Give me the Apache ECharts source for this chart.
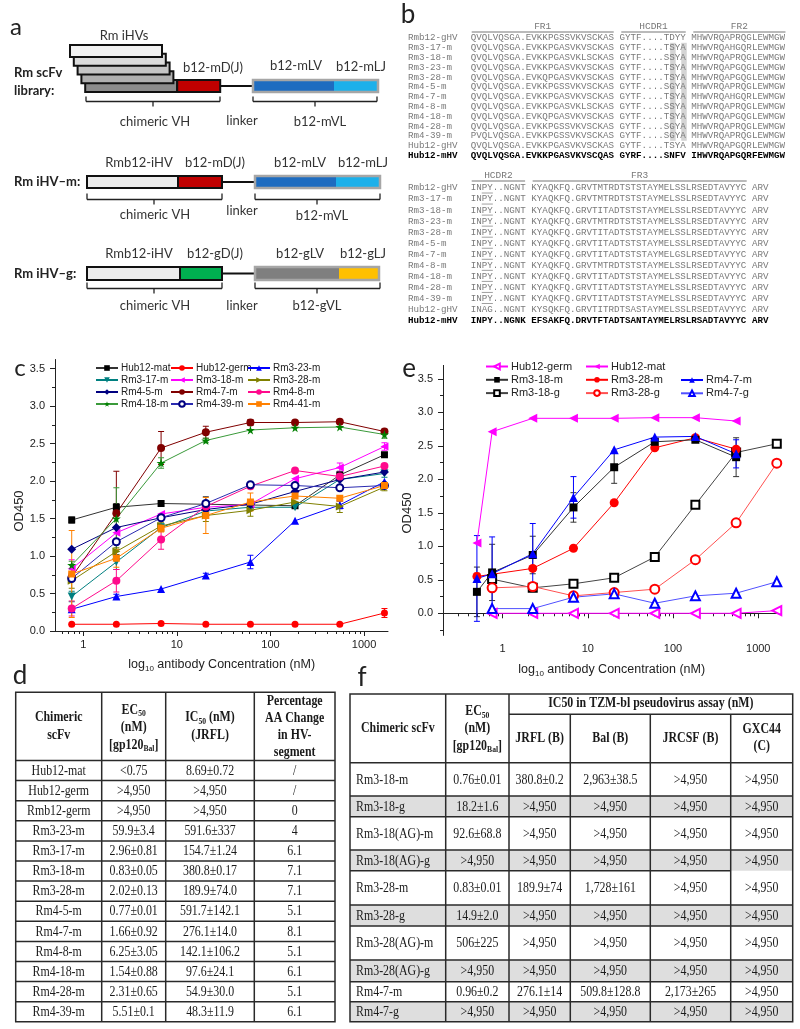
<!DOCTYPE html>
<html><head><meta charset="utf-8">
<script src="https://cdn.jsdelivr.net/npm/echarts@6/dist/echarts.min.js"></script>
<style>html,body{margin:0;padding:0;background:#fff}
#wrap{position:relative;width:800px;height:1029px}
#main,#chartE{position:absolute;left:0;top:0;width:800px;height:1029px}</style>
</head><body><div id="wrap"><div id="main"></div><div id="chartE"></div></div>
<script>
// ================= DATA =================
// Panel c: OD450 vs antibody concentration (nM)
const concC = [0.754, 2.26, 6.79, 20.4, 61.1, 183, 550, 1650];
const hub12MatC  = [1.48, 1.65, 1.70, 1.69, 1.68, 1.67, 2.08, 2.35];
const hub12GermC = [0.09, 0.09, 0.10, 0.09, 0.09, 0.09, 0.09, 0.24];
const rm3_23C = [0.29, 0.46, 0.56, 0.74, 0.92, 1.47, 1.68, 1.99];
const rm3_17C = [0.46, 0.92, 1.38, 1.60, 1.65, 1.65, 2.02, 2.10];
const rm3_18C = [0.83, 1.31, 1.56, 1.65, 1.69, 2.03, 2.18, 2.46];
const rm3_28C = [0.67, 1.06, 1.40, 1.54, 1.61, 1.72, 1.66, 1.92];
const rm4_5C  = [1.09, 1.38, 1.51, 1.62, 1.69, 1.86, 2.02, 2.12];
const rm4_7C  = [0.72, 1.57, 2.44, 2.65, 2.78, 2.78, 2.79, 2.66];
const rm4_8C  = [0.30, 0.67, 1.22, 1.66, 1.93, 2.14, 2.06, 2.20];
const rm4_18C = [0.88, 1.50, 2.24, 2.54, 2.68, 2.71, 2.72, 2.62];
const rm4_39C = [0.70, 1.19, 1.51, 1.70, 1.95, 1.94, 1.91, 1.94];
const rm4_41C = [0.76, 0.97, 1.37, 1.54, 1.72, 1.80, 1.77, 1.94];
// error bars (±) panel c
const errHub12MatC  = [0.04, 0.05, 0, 0.10, 0, 0, 0.05, 0];
const errHub12GermC = [0, 0, 0, 0, 0, 0, 0, 0.06];
const errRm3_23C = [0, 0.03, 0, 0.03, 0.09, 0, 0.05, 0];
const errRm3_17C = [0.07, 0.10, 0.05, 0, 0, 0, 0, 0.05];
const errRm3_18C = [0.12, 0, 0, 0, 0, 0, 0.06, 0.05];
const errRm3_28C = [0.10, 0.05, 0.05, 0.08, 0.08, 0, 0.08, 0.05];
const errRm4_7C  = [0.05, 0.56, 0.22, 0.08, 0.04, 0, 0, 0.03];
const errRm4_8C  = [0.10, 0.15, 0.13, 0, 0, 0, 0, 0];
const errRm4_18C = [0.05, 0.41, 0.07, 0.03, 0, 0, 0, 0.05];
const errRm4_41C = [0.58, 0.12, 0.05, 0.24, 0.12, 0, 0, 0];

// Panel e
const concE = [0.5, 0.754, 2.26, 6.79, 20.4, 61.1, 183, 550, 1650];
const hub12GermE = [null, 0.00, 0.00, 0.00, 0.00, 0.00, 0.00, 0.00, 0.04];
const hub12MatE  = [1.05, 2.71, 2.91, 2.91, 2.91, 2.92, 2.92, 2.87, null];
const rm3_18mE = [0.32, 0.61, 0.87, 1.58, 2.18, 2.56, 2.59, 2.33, null];
const rm3_28mE = [0.55, null, 0.67, 0.97, 1.65, 2.47, 2.62, 2.45, null];
const rm4_7mE  = [0.52, 0.59, 0.89, 1.73, 2.44, 2.63, 2.64, 2.38, null];
const rm3_18gE = [null, 0.51, 0.38, 0.44, 0.53, 0.84, 1.62, 2.40, 2.53];
const rm3_28gE = [null, 0.38, 0.40, 0.26, 0.31, 0.36, 0.80, 1.35, 2.24];
const rm4_7gE  = [null, 0.07, 0.07, 0.24, 0.29, 0.15, 0.26, 0.30, 0.47];
const errRm3_18mE = [0.37, 0.42, 0.28, 0.22, 0.24, 0.03, 0.02, 0.29, 0];
const errRm4_7mE  = [0.64, 0.55, 0.45, 0.31, 0, 0, 0, 0.21, 0];
const errRm3_28mE = [0.05, 0, 0.04, 0, 0, 0, 0, 0.04, 0];

// axis tick labels
const yTicks = [0, 0.5, 1.0, 1.5, 2.0, 2.5, 3.0, 3.5];
const xTicks = [1, 10, 100, 1000];

// Panel b sequences
const seqNames = ['Rmb12-gHV','Rm3-17-m','Rm3-18-m','Rm3-23-m','Rm3-28-m','Rm4-5-m','Rm4-7-m','Rm4-8-m','Rm4-18-m','Rm4-28-m','Rm4-39-m','Hub12-gHV','Hub12-mHV'];
const seqBlock1 = [
 'QVQLVQSGA.EVKKPGSSVKVSCKAS GYTF....TDYY MHWVRQAPRQGLEWMGW',
 'QVQLVQSGA.EVKKPGASVKVSCKAS GYTF....TSYA MHWVRQAHGQRLEWMGW',
 'QVQLVQSGA.EVKKPGASVKLSCKAS GYTF....SSYA MHWVRQAPRQGLEWMGW',
 'QVQLVQSGA.EVKKPGASVKVSCKAS GYTF....TSYA MHWVRQAPGQGLEWMGW',
 'QVQLVQSGA.EVKQPGASVKVSCKAS GYTF....TSYA MHWVRQAPGQGLEWMGW',
 'QVQLVQSGA.EVKKPGSSVKVSCKAS GYTF....SGYA MHWVRQAPRQGLEWMGW',
 'QVQLVQSGA.EVKKPGASVKVSCKAS GYTF....TSYA MHWVRQAHGQRLEWMGW',
 'QVQLVQSGA.EVKKPGASVKLSCKAS GYTF....SSYA MHWVRQAPRQGLEWMGW',
 'QVQLVQSGA.EVKQPGASVKVSCKAS GYTF....TSYA MHWVRQAPGQGLEWMGW',
 'QVQLVQSGA.EVKKPGSSVKVSCKAS GYTF....SGYA MHWVRQAPRQGLEWMGW',
 'PVQLVQSGA.EVKKPGSSVKVSCKAS GYTF....SGYA MHWVRQAPRQGLEWMGW',
 'QVQLVQSGA.EVKKPGASVKVSCKAS GYTF....TSYA MHWVRQAPGQRLEWMGW',
 'QVQLVQSGA.EVKKPGASVKVSCQAS GYRF....SNFV IHWVRQAPGQRFEWMGW'
];
const seqBlock2 = [
 'INPY..NGNT KYAQKFQ.GRVTMTRDTSTSTAYMELSSLRSEDTAVYYC ARV',
 'INPY..NGNT KYAQKFQ.GRVTMTRDTSTSTAYMELSSLRSEDTAVYYC ARV',
 'INPY..NGNT KYAQKFQ.GRVTITADTSTSTAYMELSSLRSEDTAVYYC ARV',
 'INPY..NGNT KYAQKFQ.GRVTMTRDTSTSTAYMELSSLRSEDTAVYYC ARV',
 'INPY..NGNT KYAQKFQ.GRVTITADTSTSTAYMELSSLRSEDTAVYYC ARV',
 'INPY..NGNT KYAQKFQ.GRVTITADTSTSTAYMELSSLRSEDTAVYYC ARV',
 'INPY..NGNT KYAQKFQ.GRVTITADTSTSTAYMELGSLRSEDTAVYYC ARV',
 'INPY..NGNT KYAQKFQ.GRVTMTRDTSTSTAYMELSSLRSEDTAVYYC ARV',
 'INPY..NGNT KYAQKFQ.GRVTITADTSTSTAYMELSSLRSEDTAVYYC ARV',
 'INPY..NGNT KYAQKFQ.GRVTITADTSTSTAYMELSSLRSEDTAVYYC ARV',
 'INPY..NGNT KYAQKFQ.GRVTITADTSTSTAYMELSSLRSEDTAVYYC ARV',
 'INAG..NGNT KYSQKFQ.GRVTITRDTSASTAYMELSSLRSEDTAVYYC ARV',
 'INPY..NGNK EFSAKFQ.DRVTFTADTSANTAYMELRSLRSADTAVYYC ARV'
];

// Panel d table
const tableDRows = [
 ['Hub12-mat','<0.75','8.69±0.72','/'],
 ['Hub12-germ','>4,950','>4,950','/'],
 ['Rmb12-germ','>4,950','>4,950','0'],
 ['Rm3-23-m','59.9±3.4','591.6±337','4'],
 ['Rm3-17-m','2.96±0.81','154.7±1.24','6.1'],
 ['Rm3-18-m','0.83±0.05','380.8±0.17','7.1'],
 ['Rm3-28-m','2.02±0.13','189.9±74.0','7.1'],
 ['Rm4-5-m','0.77±0.01','591.7±142.1','5.1'],
 ['Rm4-7-m','1.66±0.92','276.1±14.0','8.1'],
 ['Rm4-8-m','6.25±3.05','142.1±106.2','5.1'],
 ['Rm4-18-m','1.54±0.88','97.6±24.1','6.1'],
 ['Rm4-28-m','2.31±0.65','54.9±30.0','5.1'],
 ['Rm4-39-m','5.51±0.1','48.3±11.9','6.1']
];
// Panel f table
const tableFRows = [
 ['Rm3-18-m','0.76±0.01','380.8±0.2','2,963±38.5','>4,950','>4,950'],
 ['Rm3-18-g','18.2±1.6','>4,950','>4,950','>4,950','>4,950'],
 ['Rm3-18(AG)-m','92.6±68.8','>4,950','>4,950','>4,950','>4,950'],
 ['Rm3-18(AG)-g','>4,950','>4,950','>4,950','>4,950','>4,950'],
 ['Rm3-28-m','0.83±0.01','189.9±74','1,728±161','>4,950','>4,950'],
 ['Rm3-28-g','14.9±2.0','>4,950','>4,950','>4,950','>4,950'],
 ['Rm3-28(AG)-m','506±225','>4,950','>4,950','>4,950','>4,950'],
 ['Rm3-28(AG)-g','>4,950','>4,950','>4,950','>4,950','>4,950'],
 ['Rm4-7-m','0.96±0.2','276.1±14','509.8±128.8','2,173±265','>4,950'],
 ['Rm4-7-g','>4,950','>4,950','>4,950','>4,950','>4,950']
];

// ================= STYLES / LAYOUT =================
const STAR = 'path://M50,0 L61,35 L98,35 L68,57 L79,91 L50,70 L21,91 L32,57 L2,35 L39,35 Z';
const SANS = "'Liberation Sans', Arial, sans-serif";
const SERIF = "'Liberation Serif', 'Times New Roman', serif";
const MONO = "'Liberation Mono', 'DejaVu Sans Mono', monospace";
const CAL = "Lato, 'Open Sans', sans-serif";

const seriesDefC = [
 {name:'Hub12-mat', data:hub12MatC, err:errHub12MatC, color:'#000000', line:'#333333', symbol:'rect', size:7},
 {name:'Hub12-germ', data:hub12GermC, err:errHub12GermC, color:'#ff0000', symbol:'circle', size:7},
 {name:'Rm3-23-m', data:rm3_23C, err:errRm3_23C, color:'#0000ff', symbol:'triangle', size:8},
 {name:'Rm3-17-m', data:rm3_17C, err:errRm3_17C, color:'#008080', symbol:'triangle', rot:180, size:8},
 {name:'Rm3-18-m', data:rm3_18C, err:errRm3_18C, color:'#ff00ff', symbol:'triangle', rot:90, size:8},
 {name:'Rm3-28-m', data:rm3_28C, err:errRm3_28C, color:'#808000', symbol:'triangle', rot:-90, size:8},
 {name:'Rm4-5-m', data:rm4_5C, err:null, color:'#000080', symbol:'diamond', size:9},
 {name:'Rm4-7-m', data:rm4_7C, err:errRm4_7C, color:'#800000', symbol:'circle', size:8},
 {name:'Rm4-8-m', data:rm4_8C, err:errRm4_8C, color:'#ff0a8c', symbol:'circle', size:8},
 {name:'Rm4-18-m', data:rm4_18C, err:errRm4_18C, color:'#008000', line:'#3a9a3a', symbol:STAR, size:9},
 {name:'Rm4-39-m', data:rm4_39C, err:null, color:'#000080', line:'#2a2ab0', symbol:'emptyCircle', size:7, bw:2},
 {name:'Rm4-41-m', data:rm4_41C, err:errRm4_41C, color:'#ff8000', symbol:'rect', size:7}
];
const seriesDefE = [
 {name:'Hub12-germ', data:hub12GermE, color:'#ff00ff', symbol:'emptyTriangle', rot:90, size:9, bw:1},
 {name:'Hub12-mat', data:hub12MatE, color:'#ff00ff', symbol:'triangle', rot:90, size:9},
 {name:'Rm3-18-g', data:rm3_18gE, color:'#000000', line:'#444444', symbol:'emptyRect', size:8, bw:1},
 {name:'Rm3-28-g', data:rm3_28gE, color:'#ff0000', line:'#ff5050', symbol:'emptyCircle', size:9, bw:1},
 {name:'Rm4-7-g', data:rm4_7gE, color:'#0000ff', line:'#5050ff', symbol:'emptyTriangle', size:9, bw:1},
 {name:'Rm3-28-m', data:rm3_28mE, err:errRm3_28mE, color:'#ff0000', symbol:'circle', size:9},
 {name:'Rm3-18-m', data:rm3_18mE, err:errRm3_18mE, color:'#000000', line:'#333333', symbol:'rect', size:8},
 {name:'Rm4-7-m', data:rm4_7mE, err:errRm4_7mE, color:'#0000ff', symbol:'triangle', size:9}
];

function pairs(xs, ys){ return xs.map((x,i)=>[x, ys[i]==null ? '-' : ys[i]]); }
function errData(xs, ys, es){
  const out=[]; xs.forEach((x,i)=>{ if(es && es[i] && ys[i]!=null) out.push([x, ys[i], es[i]]); }); return out;
}
function errRender(params, api){
  const x=api.value(0), y=api.value(1), e=api.value(2);
  const p1=api.coord([x,y+e]), p2=api.coord([x,y-e]);
  const c=api.visual('color');
  const st={stroke:c, lineWidth:1};
  return {type:'group', children:[
    {type:'line', shape:{x1:p1[0],y1:p1[1],x2:p2[0],y2:p2[1]}, style:st},
    {type:'line', shape:{x1:p1[0]-3,y1:p1[1],x2:p1[0]+3,y2:p1[1]}, style:st},
    {type:'line', shape:{x1:p2[0]-3,y1:p2[1],x2:p2[0]+3,y2:p2[1]}, style:st}
  ]};
}
function buildSeries(defs, xs){
  const out=[];
  defs.forEach(d=>{
    const s={type:'line', name:d.name, data:pairs(xs,d.data),
      connectNulls:true, symbol:d.symbol, symbolSize:d.size, symbolRotate:d.rot||0,
      lineStyle:{color:d.line||d.color, width:1}, itemStyle:{color:d.color}, z:3};
    if(d.bw){ s.itemStyle.borderWidth=d.bw; s.itemStyle.borderColor=d.color; }
    out.push(s);
    if(d.err){
      out.push({type:'custom', name:'err '+d.name, data:errData(xs,d.data,d.err), renderItem:errRender,
        itemStyle:{color:d.line||d.color}, encode:{x:0,y:1}, z:2, silent:true});
    }
  });
  return out;
}

function logMinor(lo, hi){ const o=[]; for(let d=0.1; d<=1000; d*=10){ for(let k=2;k<=9;k++){ const v=+(k*d).toPrecision(3); if(v>lo && v<hi) o.push(v);} } return o; }
function linMinor(lo, hi){ const o=[]; for(let v=-0.25; v<hi; v+=0.5){ if(v>lo) o.push(+v.toFixed(2)); } return o; }

const axisLine={lineStyle:{color:'#222', width:1}};
const axLabel={color:'#222', fontSize:11, fontFamily:SANS};
function xMain(min,max){ return {type:'log', position:'bottom', min, max, axisLine, splitLine:{show:false},
  axisTick:{customValues:xTicks, length:5, lineStyle:{color:'#222'}},
  axisLabel:Object.assign({customValues:xTicks, margin:8, formatter:v=>String(Math.round(v))}, axLabel)}; }
function xMinor(min,max){ return {type:'log', position:'bottom', min, max, axisLine:{show:false}, splitLine:{show:false},
  axisTick:{customValues:logMinor(min,max), length:3, lineStyle:{color:'#222'}}, axisLabel:{show:false}}; }
function yMain(min,max){ return {type:'value', position:'left', min, max, axisLine:Object.assign({show:true},axisLine), splitLine:{show:false},
  axisTick:{show:true, customValues:yTicks, length:5, lineStyle:{color:'#222'}},
  axisLabel:Object.assign({customValues:yTicks, margin:10, formatter:v=>v.toFixed(1)}, axLabel)}; }
function yMinor(min,max){ return {type:'value', position:'left', offset:0, min, max, axisLine:{show:false}, splitLine:{show:false},
  axisTick:{show:true, customValues:linMinor(min,max), length:3, lineStyle:{color:'#222'}}, axisLabel:{show:false}}; }

function legendCol(left, top, data, fs){
  return {left, top, orient:'vertical', data, itemWidth:22, itemHeight:7, itemGap: fs===10?2:2.3, padding:0,
    selectedMode:false, textStyle:{fontSize:fs, fontFamily:SANS, color:'#222', padding:[0,0,0,-2]}};
}

// ================= GRAPHIC ELEMENTS =================
const G=[];
function T(x,y,text,o){ o=o||{}; G.push({type:'text', x, y, rotation:o.rot||0, scaleX:o.sx||1, silent:true, z:10,
  style:{text, x:0, y:0, align:o.align||'center', verticalAlign:'middle', fontSize:o.fs||12, fontFamily:o.ff||SANS,
  fontWeight:o.fw||'normal', fill:o.fill||'#222', rich:o.rich}}); }
function L(x1,y1,x2,y2,c,w){ G.push({type:'line', silent:true, shape:{x1,y1,x2,y2}, style:{stroke:c||'#222', lineWidth:w||1}}); }
function R(x,y,w,h,fill,stroke,lw){ G.push({type:'rect', silent:true, shape:{x,y,width:w,height:h}, style:{fill:fill||'none', stroke:stroke||null, lineWidth:lw||0}}); }

// panel letters
T(16,27,'a',{fs:24,ff:CAL}); T(408,15,'b',{fs:26,ff:CAL});
T(20,368,'c',{fs:24,ff:CAL}); T(409,369,'e',{fs:26,ff:CAL});
T(20,676,'d',{fs:26,ff:CAL}); T(362,678,'f',{fs:26,ff:CAL});

// ---- panel a ----
const gr=['#f2f2f2','#dcdcdc','#c6c6c6','#b0b0b0','#8c8c8c'];
for(let i=4;i>=0;i--){ R(70+i*3.8, 45+i*8.75, 92, 12, gr[i], '#111', 2); }
R(177.2,80,43,12,'#c00000','#111',2);
L(220,86,253,86,'#111',2);
function vl(x,y,wd,wl,c1,c2){ R(x,y,wd,12,c1,null,0); R(x+wd,y,wl,12,c2,null,0); R(x,y,wd+wl,12,'none','#a6a6a6',2.5); }
vl(253,80,81,44,'#1e6cc0','#1cb0ea');
function bracket(x1,x2,y,cx,h){ L(x1,y,x2,y,'#222',1.3); L(x1,y-h,x1,y,'#222',1.3); L(x2,y-h,x2,y,'#222',1.3); L(cx,y,cx,y+5,'#222',1.3); }
bracket(86,220,101.5,153,5); bracket(253,377,101.5,315,5);
T(124,36,'Rm iHVs',{fs:13,ff:CAL,fill:'#333'}); T(213,67.7,'b12-mD(J)',{fs:13,ff:CAL,fill:'#333'});
T(296,66,'b12-mLV',{fs:13,ff:CAL,fill:'#333'}); T(361,67,'b12-mLJ',{fs:13,ff:CAL,fill:'#333'});
T(14,72.5,'Rm scFv',{fs:13,ff:CAL,fw:'bold',align:'left'}); T(14,91,'library:',{fs:13,ff:CAL,fw:'bold',align:'left'});
T(155,121.5,'chimeric VH',{fs:13,ff:CAL,fill:'#333'}); T(242,121,'linker',{fs:13,ff:CAL,fill:'#333'}); T(320,121.5,'b12-mVL',{fs:13,ff:CAL,fill:'#333'});
// row 2
R(87,176,91,12,'#ececec','#111',2); R(178,176,44,12,'#c00000','#111',2); L(222,182,255,182,'#111',2);
vl(255,176,81,44,'#1e6cc0','#1cb0ea');
bracket(87,222,199.5,154,6); bracket(255,380,199.5,317,6);
T(139,163.3,'Rmb12-iHV',{fs:13,ff:CAL,fill:'#333'}); T(215,163.3,'b12-mD(J)',{fs:13,ff:CAL,fill:'#333'});
T(300,162.5,'b12-mLV',{fs:13,ff:CAL,fill:'#333'}); T(363,162.5,'b12-mLJ',{fs:13,ff:CAL,fill:'#333'});
T(14,182,'Rm iHV–m:',{fs:13,ff:CAL,fw:'bold',align:'left'});
T(155,215,'chimeric VH',{fs:13,ff:CAL,fill:'#333'}); T(242,211,'linker',{fs:13,ff:CAL,fill:'#333'}); T(322,216,'b12-mVL',{fs:13,ff:CAL,fill:'#333'});
// row 3
R(87,267,93,13,'#ececec','#111',2); R(180,267,42,13,'#00b050','#111',2); L(222,273.5,255,273.5,'#111',2);
R(255,267,84,13,'#7f7f7f',null,0); R(339,267,40,13,'#ffc000',null,0); R(255,267,124,13,'none','#a6a6a6',2.5);
bracket(87,222,288.5,154,6); bracket(255,380,288.5,317,6);
T(139,254,'Rmb12-iHV',{fs:13,ff:CAL,fill:'#333'}); T(215,254,'b12-gD(J)',{fs:13,ff:CAL,fill:'#333'});
T(300,253.5,'b12-gLV',{fs:13,ff:CAL,fill:'#333'}); T(363,253.5,'b12-gLJ',{fs:13,ff:CAL,fill:'#333'});
T(14,273.5,'Rm iHV–g:',{fs:13,ff:CAL,fw:'bold',align:'left'});
T(155,306,'chimeric VH',{fs:13,ff:CAL,fill:'#333'}); T(242,306,'linker',{fs:13,ff:CAL,fill:'#333'}); T(317,306,'b12-gVL',{fs:13,ff:CAL,fill:'#333'});

// ---- panel b ----
const CW=5.54, SX=470.7, NX=408;
function seqBlock(rows, y0, step, hdrY, hdrs){
  hdrs.forEach(h=>{ const x1=SX+h[1]*CW, x2=SX+h[2]*CW; T((x1+x2)/2, hdrY, h[0], {fs:9.5, ff:MONO, fill:'#777', align:'center'}); L(x1+1, hdrY+5.5, x2-1, hdrY+5.5, '#777', 1.2); });
  seqNames.forEach((n,i)=>{
    const y=y0+i*step, last=(i===seqNames.length-1);
    const st={fs:9.2, ff:MONO, fill:last?'#000':'#7a7a7a', fw:last?'bold':'normal', align:'left'};
    T(NX, y, n, st); T(SX, y, rows[i], st);
  });
}
const b1y=38, b1s=9.8, b2y=188, b2s=11.05;
// HCDR1 shading
R(SX+36*CW, b1y+b1s-5, CW, b1s*10, '#d4d4d4', null, 0);
R(SX+38*CW, b1y+b1s-5, CW, b1s*10, '#d4d4d4', null, 0);
seqBlock(seqBlock1, b1y, b1s, 26.5, [['FR1',0,26],['HCDR1',27,39],['FR2',40,57]]);
seqBlock(seqBlock2, b2y, b2s, 175.5, [['HCDR2',0,10],['FR3',11,50]]);
for(let i=0;i<11;i++){ const y=b2y+i*b2s+5; L(SX+2*CW, y, SX+4*CW, y, '#888', 0.8); }

// ---- OD450 / x titles ----
T(19,511,'OD450',{fs:13, rot:Math.PI/2});
T(407.5,513,'OD450',{fs:13, rot:Math.PI/2});
const xRich={a:{fontSize:12.5,fontFamily:SANS,fill:'#222',lineHeight:16,verticalAlign:'middle'}, s:{fontSize:8,fontFamily:SANS,fill:'#222',lineHeight:16,verticalAlign:'bottom'}};
T(221.7,665,'{a|log}{s|10}{a| antibody Concentration (nM)}',{rich:xRich});
T(611.7,670,'{a|log}{s|10}{a| antibody Concentration (nM)}',{rich:xRich});

// ---- tables ----
const TXT={ff:SERIF, fs:14, sx:0.85, fill:'#1a1a1a'};
const HB=Object.assign({}, TXT, {fw:'bold'});
const subRich={b:{fontSize:14,fontFamily:SERIF,fontWeight:'bold',fill:'#1a1a1a',lineHeight:16,verticalAlign:'middle'},
               s:{fontSize:9,fontFamily:SERIF,fontWeight:'bold',fill:'#1a1a1a',lineHeight:16,verticalAlign:'bottom'}};
// table d
const dCols=[15.7,101.7,165.7,254.3,335], dTop=692.3, dHB=760.5, dRH=20.1;
const dBot=dHB+dRH*tableDRows.length;
R(dCols[0],dTop,dCols[4]-dCols[0],dBot-dTop,'none','#2a2a2a',1.5);
dCols.slice(1,4).forEach(x=>L(x,dTop,x,dBot,'#2a2a2a',1.5));
L(dCols[0],dHB,dCols[4],dHB,'#2a2a2a',1.5);
for(let i=1;i<tableDRows.length;i++) L(dCols[0],dHB+i*dRH,dCols[4],dHB+i*dRH,'#2a2a2a',1.5);
const dc=i=>(dCols[i]+dCols[i+1])/2;
T(dc(0),717.7,'Chimeric',HB); T(dc(0),735,'scFv',HB);
T(dc(1),710,'{b|EC}{s|50}',Object.assign({},HB,{rich:subRich})); T(dc(1),727,'(nM)',HB);
T(dc(1),745,'{b|[gp120}{s|Bal}{b|]}',Object.assign({},HB,{rich:subRich}));
T(dc(2),717.7,'{b|IC}{s|50}{b| (nM)}',Object.assign({},HB,{rich:subRich})); T(dc(2),735,'(JRFL)',HB);
T(dc(3),701,'Percentage',HB); T(dc(3),718,'AA Change',HB); T(dc(3),735.5,'in HV-',HB); T(dc(3),752.3,'segment',HB);
tableDRows.forEach((r,i)=>{ const y=dHB+(i+0.5)*dRH+0.5; r.forEach((v,j)=>T(dc(j),y,v,TXT)); });

// table f
const fCols=[350,445.7,509,570.3,650.3,730.7,792.7], fTop=694, fMid=714.3, fHB=762.7;
const fRows=[762.7,796,816.7,850,870.7,905,926,960,981.7,1001.7,1021.7];
const fBot=fRows[fRows.length-1];
tableFRows.forEach((r,i)=>{ if(i%2===1) R(fCols[0],fRows[i],fCols[6]-fCols[0],fRows[i+1]-fRows[i],'#dedede',null,0); });
R(fCols[0],fTop,fCols[6]-fCols[0],fBot-fTop,'none','#2a2a2a',1.5);
L(fCols[2],fMid,fCols[6],fMid,'#2a2a2a',1.5);
[1,2].forEach(k=>L(fCols[k],fTop,fCols[k],fBot,'#2a2a2a',1.5));
[3,4,5].forEach(k=>L(fCols[k],fMid,fCols[k],fBot,'#2a2a2a',1.5));
L(fCols[0],fHB,fCols[6],fHB,'#2a2a2a',1.5);
for(let i=1;i<fRows.length-1;i++){ const xe=(i===4)?fCols[5]:fCols[6]; L(fCols[0],fRows[i],xe,fRows[i],'#2a2a2a',1.5); }
const fc=i=>(fCols[i]+fCols[i+1])/2;
T(fc(0),728,'Chimeric scFv',HB);
T(fc(1),711.7,'{b|EC}{s|50}',Object.assign({},HB,{rich:subRich})); T(fc(1),728.3,'(nM)',HB);
T(fc(1),746,'{b|[gp120}{s|Bal}{b|]}',Object.assign({},HB,{rich:subRich}));
T((fCols[2]+fCols[6])/2,703.5,'IC50 in TZM-bl pseudovirus assay (nM)',HB);
T(fc(2),738.3,'JRFL (B)',HB); T(fc(3),738.3,'Bal (B)',HB); T(fc(4),738.3,'JRCSF (B)',HB);
T(fc(5),729,'GXC44',HB); T(fc(5),746.7,'(C)',HB);
tableFRows.forEach((r,i)=>{ const y=(fRows[i]+fRows[i+1])/2+0.5;
  r.forEach((v,j)=>{ if(j===0) T(356,y,v,Object.assign({},TXT,{align:'left'})); else T(fc(j),y,v,TXT); }); });

// ================= CHART C (with page graphics) =================
const optionC={
  animation:false, backgroundColor:'#fff',
  grid:{left:55, top:359.5, width:333, height:271.5},
  xAxis:[xMain(0.5,1800), xMinor(0.5,1800)],
  yAxis:[yMain(0,3.62), yMinor(0,3.62)],
  legend:[
    legendCol(95,363,['Hub12-mat','Rm3-17-m','Rm4-5-m','Rm4-18-m'],10),
    legendCol(170,363,['Hub12-germ','Rm3-18-m','Rm4-7-m','Rm4-39-m'],10),
    legendCol(247,363,['Rm3-23-m','Rm3-28-m','Rm4-8-m','Rm4-41-m'],10)
  ],
  series:buildSeries(seriesDefC, concC),
  graphic:{elements:G}
};
// ================= CHART E =================
const optionE={
  animation:false, backgroundColor:'transparent',
  grid:{left:443, top:365.4, width:337, height:270},
  xAxis:[xMain(0.2,1800), xMinor(0.2,1800)],
  yAxis:[yMain(-0.33,3.7), yMinor(-0.33,3.7)],
  legend:[
    legendCol(485,361,['Hub12-germ','Rm3-18-m','Rm3-18-g'],11),
    legendCol(585,361,['Hub12-mat','Rm3-28-m','Rm3-28-g'],11),
    legendCol(680,374.5,['Rm4-7-m','Rm4-7-g'],11)
  ],
  series:buildSeries(seriesDefE, concE)
};
const chartC=echarts.init(document.getElementById('main'),null,{renderer:'canvas',width:800,height:1029});
chartC.setOption(optionC);
const chartE=echarts.init(document.getElementById('chartE'),null,{renderer:'canvas',width:800,height:1029});
chartE.setOption(optionE);
</script></body></html>
